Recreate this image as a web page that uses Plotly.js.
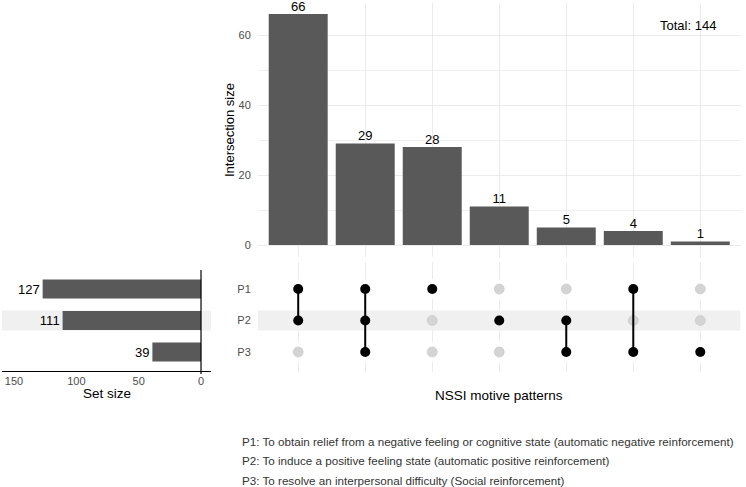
<!DOCTYPE html>
<html>
<head>
<meta charset="utf-8">
<script src="https://cdn.plot.ly/plotly-3.0.1.min.js"></script>
<style>
  html, body { margin: 0; padding: 0; background: #ffffff; }
  #chart { width: 746px; height: 487px; }
</style>
</head>
<body>
<div id="chart"></div>
<script>
// Motive sets and their sizes
const setNames = ['P1', 'P2', 'P3'];
const setSizes = [127, 111, 39];

// Intersection patterns (columns), ordered by size
const intersectionSizes = [66, 29, 28, 11, 5, 4, 1];
const patternMembers = [
  ['P1', 'P2'],
  ['P1', 'P2', 'P3'],
  ['P1'],
  ['P2'],
  ['P2', 'P3'],
  ['P1', 'P3'],
  ['P3']
];

const setDescriptions = [
  'P1: To obtain relief from a negative feeling or cognitive state (automatic negative reinforcement)',
  'P2: To induce a positive feeling state (automatic positive reinforcement)',
  'P3: To resolve an interpersonal difficulty (Social reinforcement)'
];

const W = 746, H = 487;
const FONT = '"Liberation Sans", Arial, Helvetica, sans-serif';
const BAR = '#595959';
const GRID = '#ebebeb';
const TICK = '#4d4d4d';

// pixel helpers for layout placement
const px = v => v / W;
const py = v => 1 - v / H;

// row position of each set in the matrix (P1 on top)
const rowOf = {};
setNames.forEach((s, i) => { rowOf[s] = setNames.length - i; });
const cols = intersectionSizes.map((_, i) => i + 1);

// matrix dots
const offX = [], offY = [], onX = [], onY = [];
const segX = [], segY = [];
patternMembers.forEach((members, ci) => {
  const c = cols[ci];
  setNames.forEach(s => {
    if (members.includes(s)) { onX.push(c); onY.push(rowOf[s]); }
    else { offX.push(c); offY.push(rowOf[s]); }
  });
  if (members.length > 1) {
    const rows = members.map(m => rowOf[m]);
    segX.push(c, c, null);
    segY.push(Math.min(...rows), Math.max(...rows), null);
  }
});

const traces = [
  {
    type: 'bar', x: cols, y: intersectionSizes, xaxis: 'x', yaxis: 'y',
    width: 0.88, marker: { color: BAR }, hoverinfo: 'x+y'
  },
  {
    // count labels sitting on top of each intersection bar
    type: 'scatter', mode: 'text', x: cols, y: intersectionSizes, xaxis: 'x', yaxis: 'y',
    text: intersectionSizes.map(String), textposition: 'top center',
    textfont: { family: FONT, size: 13, color: '#000' },
    cliponaxis: false, hoverinfo: 'skip'
  },
  {
    type: 'scatter', mode: 'markers', x: offX, y: offY, xaxis: 'x2', yaxis: 'y2',
    marker: { size: 10, color: '#d4d4d4', line: { color: '#c4c4c4', width: 0.6 } },
    hoverinfo: 'skip'
  },
  {
    type: 'scatter', mode: 'lines', x: segX, y: segY, xaxis: 'x2', yaxis: 'y2',
    line: { color: '#000', width: 2 }, connectgaps: false, hoverinfo: 'skip'
  },
  {
    type: 'scatter', mode: 'markers', x: onX, y: onY, xaxis: 'x2', yaxis: 'y2',
    marker: { size: 10, color: '#000' }, hoverinfo: 'skip'
  },
  {
    type: 'bar', orientation: 'h', x: setSizes, y: setNames.map(s => rowOf[s]),
    xaxis: 'x3', yaxis: 'y3', width: 0.6, marker: { color: BAR },
    text: setSizes.map(String), textposition: 'outside',
    outsidetextfont: { family: FONT, size: 13, color: '#000' },
    cliponaxis: false, hoverinfo: 'x'
  }
];

// row bands: white rows hide the column grid, the middle row is shaded
const shapes = [];
setNames.forEach(s => {
  const r = rowOf[s];
  const fill = (r === 2) ? '#f0f0f0' : '#ffffff';
  shapes.push({
    type: 'rect', xref: 'x2', yref: 'y2', x0: 0.4, x1: 7.6, y0: r - 0.32, y1: r + 0.32,
    fillcolor: fill, line: { width: 0 }, layer: 'between'
  });
  if (r === 2) {
    shapes.push({
      type: 'rect', xref: 'x3', yref: 'y3', x0: 159.6, x1: -8, y0: r - 0.32, y1: r + 0.32,
      fillcolor: fill, line: { width: 0 }, layer: 'below'
    });
  }
});
// vertical axis line at zero of the set-size panel
shapes.push({
  type: 'line', xref: 'x3', yref: 'paper', x0: 0, x1: 0, y0: py(374), y1: py(270),
  line: { color: '#000', width: 1.2 }, layer: 'above'
});

const annotations = [
  {
    text: 'Intersection size', xref: 'paper', yref: 'paper', x: px(229), y: py(130),
    textangle: -90, showarrow: false, xanchor: 'center', yanchor: 'middle',
    font: { family: FONT, size: 13, color: '#000' }
  },
  {
    text: 'Total: 144', xref: 'paper', yref: 'paper', x: px(688), y: py(25.5),
    showarrow: false, xanchor: 'center', yanchor: 'middle',
    font: { family: FONT, size: 13, color: '#000' }
  },
  {
    text: 'NSSI motive patterns', xref: 'paper', yref: 'paper', x: px(499), y: py(395),
    showarrow: false, xanchor: 'center', yanchor: 'middle',
    font: { family: FONT, size: 13.5, color: '#000' }
  },
  {
    text: 'Set size', xref: 'paper', yref: 'paper', x: px(107), y: py(393),
    showarrow: false, xanchor: 'center', yanchor: 'middle',
    font: { family: FONT, size: 13.5, color: '#000' }
  }
];
setDescriptions.forEach((t, i) => {
  annotations.push({
    text: t, xref: 'paper', yref: 'paper', x: px(240), y: py(441 + i * 19.5),
    showarrow: false, xanchor: 'left', yanchor: 'middle',
    font: { family: FONT, size: 11.65, color: '#333333' }
  });
});

const layout = {
  width: W, height: H,
  margin: { l: 0, r: 0, t: 0, b: 0 },
  paper_bgcolor: '#ffffff', plot_bgcolor: '#ffffff',
  showlegend: false,
  font: { family: FONT, color: TICK, size: 11 },
  xaxis: {
    domain: [px(258), px(740.5)], range: [0.4, 7.6], anchor: 'y',
    tickvals: cols, showticklabels: false, ticks: '',
    showgrid: true, gridcolor: GRID, gridwidth: 1, zeroline: false, showline: false,
    fixedrange: true
  },
  yaxis: {
    domain: [py(257), py(2.5)], range: [-3.43, 69.29], anchor: 'x',
    tickvals: [0, 20, 40, 60], ticks: 'outside', ticklen: 4, tickcolor: 'rgba(0,0,0,0)',
    tickfont: { family: FONT, size: 11, color: TICK },
    showgrid: true, gridcolor: GRID, gridwidth: 1,
    minor: { tickvals: [10, 30, 50, 70], showgrid: true, gridcolor: '#f0f0f0', gridwidth: 1 },
    zeroline: false, showline: false, fixedrange: true
  },
  xaxis2: {
    domain: [px(258), px(740.5)], range: [0.4, 7.6], anchor: 'y2',
    tickvals: cols, showticklabels: false, ticks: '',
    showgrid: true, gridcolor: GRID, gridwidth: 1, zeroline: false, showline: false,
    fixedrange: true
  },
  yaxis2: {
    domain: [py(372), py(262)], range: [0.365, 3.857], anchor: 'x2',
    tickvals: setNames.map(s => rowOf[s]), ticktext: setNames,
    ticks: 'outside', ticklen: 4, tickcolor: 'rgba(0,0,0,0)',
    tickfont: { family: FONT, size: 11, color: TICK },
    showgrid: false, zeroline: false, showline: false, fixedrange: true
  },
  xaxis3: {
    domain: [px(2), px(211)], range: [159.6, -8], anchor: 'y3',
    tickvals: [150, 100, 50, 0], ticks: '',
    tickfont: { family: FONT, size: 11, color: TICK },
    showgrid: false, zeroline: false, showline: true, linecolor: '#000', linewidth: 1,
    fixedrange: true
  },
  yaxis3: {
    domain: [py(371), py(270)], range: [0.397, 3.603], anchor: 'x3',
    showticklabels: false, ticks: '', showgrid: false, zeroline: false, showline: false,
    fixedrange: true
  },
  shapes: shapes,
  annotations: annotations
};

Plotly.newPlot('chart', traces, layout, { displayModeBar: false, staticPlot: true });
</script>
</body>
</html>
